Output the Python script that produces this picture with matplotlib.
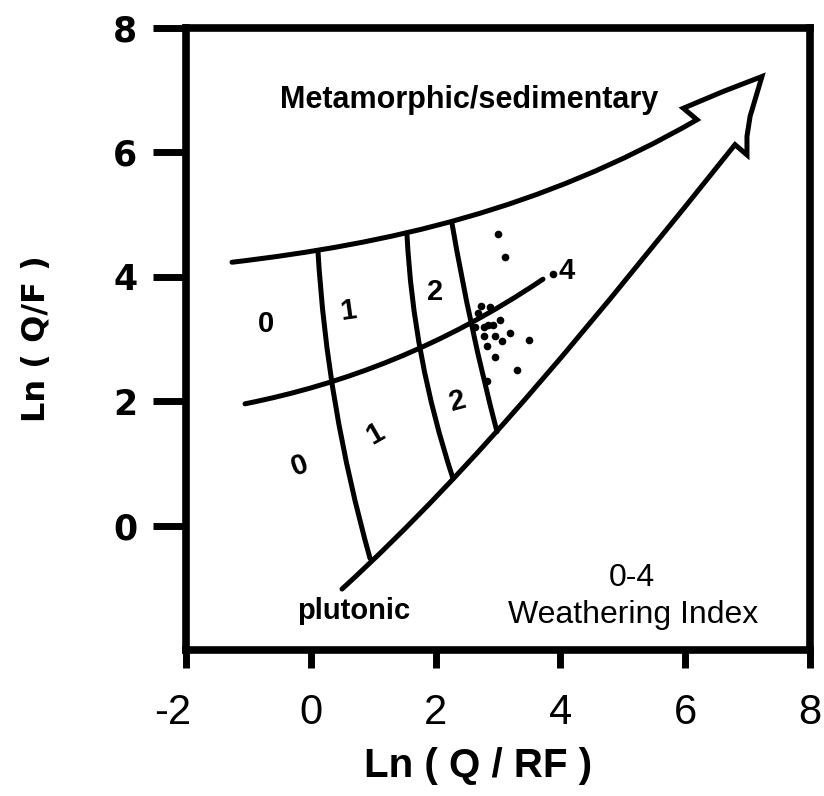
import matplotlib
matplotlib.use("Agg")
import matplotlib.pyplot as plt
import matplotlib.transforms as mtransforms
from matplotlib.path import Path
from matplotlib.patches import PathPatch

# ---- data ----
# Upper boundary: cubic Bezier (start, ctrl1, ctrl2, end at arrow barb)
upper_x = [-1.263, 1.24, 3.69, 6.189]
upper_y = [4.234, 4.53, 5.08, 6.526]
# Arrow head outline (barb -> tip -> right barb notch)
head_x = [5.97, 6.61, 7.23, 7.15, 7.04, 6.99, 6.99, 6.798]
head_y = [6.71, 6.98, 7.22, 6.95, 6.58, 6.26, 5.96, 6.125]
# Lower boundary: cubic Bezier (notch -> ctrl -> ctrl -> plutonic end)
lower_x = [6.798, 4.598, 2.7, 0.5]
lower_y = [6.125, 3.375, 1.0, -1.02]
# Middle trend line: cubic Bezier
mid_x = [-1.054, 0.546, 2.121, 3.721]
mid_y = [1.958, 2.28, 2.88, 3.962]
# Weathering-index divider lines: quadratic Bezier (top, ctrl, bottom)
divA_x = [0.115, 0.258, 0.949]
divA_y = [4.41, 1.942, -0.526]
divB_x = [1.542, 1.6395, 2.279]
divB_y = [4.667, 2.7115, 0.756]
divC_x = [2.263, 2.5465, 2.984]
divC_y = [4.859, 3.1845, 1.51]
# Sample points
pts_x = [3.00, 3.11, 3.88, 2.72, 2.87, 2.68, 3.03, 2.78, 2.84, 2.92, 2.63,
         2.78, 2.95, 3.19, 3.49, 3.06, 2.83, 2.95, 3.30, 2.82]
pts_y = [4.69, 4.32, 4.04, 3.53, 3.51, 3.42, 3.31, 3.20, 3.22, 3.23, 3.19,
         3.05, 3.05, 3.10, 2.99, 2.96, 2.88, 2.71, 2.50, 2.33]
# Index labels
idx_text = ["0", "1", "2", "0", "1", "2", "4"]
idx_x = [-0.718, 0.596, 1.99, -0.173, 1.029, 2.359, 4.10]
idx_y = [3.24, 3.45, 3.75, 0.965, 1.478, 2.0, 4.09]
idx_rot = [0, 8, 0, 20, 30, 15, 0]

xticks = [-2, 0, 2, 4, 6, 8]
yticks = [0, 2, 4, 6, 8]

# ---- figure ----
fig = plt.figure(figsize=(8.24, 7.96), dpi=100)
ax = fig.add_axes([186/824, 1-650/796, 624/824, 622/796])
ax.set_xlim(-2, 8)
ax.set_ylim(-2, 8)

lw = 3.6

# outer outline: upper curve + arrow head + lower curve
verts = list(zip(upper_x, upper_y)) + list(zip(head_x, head_y)) + list(zip(lower_x[1:], lower_y[1:]))
codes = [Path.MOVETO] + [Path.CURVE4] * 3 + [Path.LINETO] * len(head_x) + [Path.CURVE4] * 3
ax.add_patch(PathPatch(Path(verts, codes), fill=False, lw=lw, ec="black",
                       joinstyle="miter", capstyle="round"))

ax.add_patch(PathPatch(Path(list(zip(mid_x, mid_y)),
                            [Path.MOVETO] + [Path.CURVE4] * 3),
                       fill=False, lw=lw, ec="black", capstyle="round"))
for xs, ys in [(divA_x, divA_y), (divB_x, divB_y), (divC_x, divC_y)]:
    ax.add_patch(PathPatch(Path(list(zip(xs, ys)),
                                [Path.MOVETO, Path.CURVE3, Path.CURVE3]),
                           fill=False, lw=lw, ec="black", capstyle="round"))

ax.plot(pts_x, pts_y, "o", color="black", ms=5.5, mec="none")

for t, x, y, r in zip(idx_text, idx_x, idx_y, idx_rot):
    ax.text(x, y, t, ha="center", va="center", rotation=r, fontsize=21,
            family="Liberation Sans", fontweight="bold")

ax.text(2.54, 6.85, "Metamorphic/sedimentary", ha="center", va="center",
        fontsize=22, fontweight="bold", family="Liberation Sans")
ax.text(0.68, -1.38, "plutonic", ha="center", va="center",
        fontsize=21, fontweight="bold", family="Liberation Sans")
ax.text(5.14, -0.85, "0-4", ha="center", va="center",
        fontsize=23, family="Liberation Sans")
ax.text(5.17, -1.43, "Weathering Index", ha="center", va="center",
        fontsize=23, family="Liberation Sans")

for s in ax.spines.values():
    s.set_linewidth(5.5)
ax.set_xticks(xticks)
ax.set_yticks(yticks)
ax.set_xticklabels([str(v) for v in xticks], family="Liberation Sans", fontsize=30)
ax.set_yticklabels([str(v) for v in yticks], family="DejaVu Sans", fontweight="bold",
                   fontsize=25)
ax.tick_params(axis="x", direction="out", length=13, width=5, pad=18)
ax.tick_params(axis="y", direction="out", length=24, width=5, pad=11)
# the "-2" label sits slightly left of its tick in the reference
first = ax.get_xticklabels()[0]
first.set_transform(first.get_transform() +
                    mtransforms.ScaledTranslation(-13/100, 0, fig.dpi_scale_trans))

ax.set_xlabel("Ln ( Q / RF )", fontsize=29, fontweight="bold",
              family="Liberation Sans", labelpad=10)
ax.xaxis.label.set_x(0.468)
ax.set_ylabel("Ln ( Q/F )", fontsize=23, fontweight="bold",
              family="DejaVu Sans", labelpad=44)

fig.savefig("out.png", dpi=100)
